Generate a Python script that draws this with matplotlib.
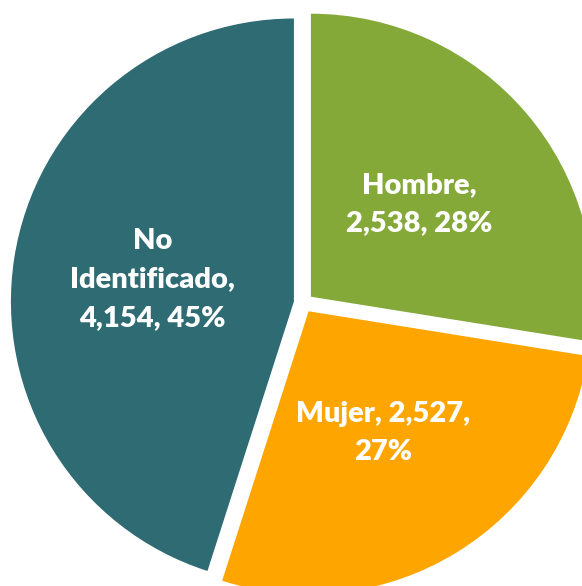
import matplotlib
matplotlib.use("Agg")
from matplotlib import pyplot as plt

categories = ["Hombre", "Mujer", "No Identificado"]
counts = [2538, 2527, 4154]
percents = [28, 27, 45]
colors = ["#84A939", "#FFA500", "#2E6B73"]

# label text as shown in the chart (line breaks like the original)
labels = [
    "Hombre,\n{:,}, {}%".format(counts[0], percents[0]),
    "Mujer, {:,},\n{}%".format(counts[1], percents[1]),
    "No\nIdentificado,\n{:,}, {}%".format(counts[2], percents[2]),
]

W, H = 582, 586
fig = plt.figure(figsize=(W / 100, H / 100), dpi=100)
ax = fig.add_axes([0, 0, 1, 1])

ax.pie(
    counts,
    labels=labels,
    colors=colors,
    startangle=90,
    counterclock=False,
    center=(303.5, H - 303),
    radius=283,
    explode=[9.7, 9.7, 9.7],
    labeldistance=0.505,
    wedgeprops=dict(linewidth=0),
    textprops=dict(color="white", fontsize=21, fontweight="heavy", family="Lato",
                   ha="center", va="center", multialignment="center", linespacing=1.6),
)

ax.set_xlim(0, W)
ax.set_ylim(0, H)
ax.set_aspect("equal")
plt.axis("off")
fig.savefig("out.png", dpi=100)
